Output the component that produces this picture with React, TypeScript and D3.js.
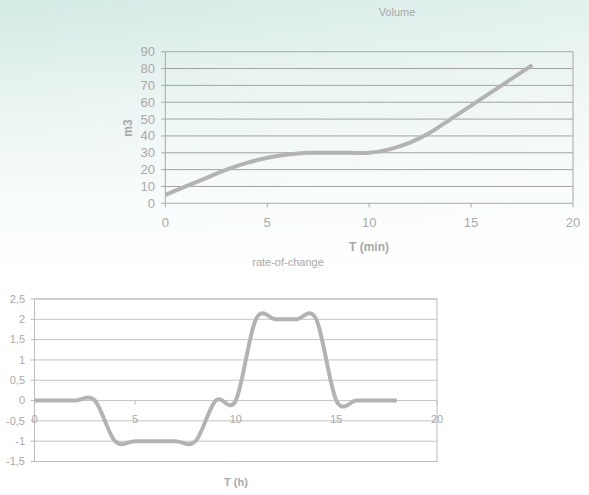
import React, { useEffect } from 'react';
import * as d3 from 'd3';

const W = 589;
const H = 495;

// volume chart (top)
const volT = [0, 1, 2, 3, 4, 5, 6, 7, 8, 9, 10, 11, 12, 13, 14, 15, 16, 17, 18];
const volV = [5, 10, 15, 20, 24, 27, 29, 30, 30, 30, 30, 32, 36, 42, 50, 58, 66, 74, 82];
const volYTicks = [0, 10, 20, 30, 40, 50, 60, 70, 80, 90];
const volXTicks = [0, 5, 10, 15, 20];

// rate-of-change chart (bottom)
const rateT = [0, 1, 2, 3, 4, 5, 6, 7, 8, 9, 10, 11, 12, 13, 14, 15, 16, 17, 18];
const rateV = [0, 0, 0, 0, -1, -1, -1, -1, -1, 0, 0, 2, 2, 2, 2, 0, 0, 0, 0];
const rateYTicks = [-1.5, -1, -0.5, 0, 0.5, 1, 1.5, 2, 2.5];
const rateXTicks = [0, 5, 10, 15, 20];

const FONT = '"Liberation Sans", Arial, sans-serif';
const TXT = '#a9a9a9';
const LINE = '#b3b3b3';

const fmtComma = (v: number) => String(v).replace('.', ',');

const App = () => {
    useEffect(() => {
        document.body.style.margin = '0';
    }, []);

    // top scales
    const x1 = d3.scaleLinear([0, 20], [165.3, 573]);
    const y1 = d3.scaleLinear([0, 90], [203.3, 51.7]);
    const line1 = d3
        .line<number>()
        .x((_, i) => x1(volT[i]))
        .y(d => y1(d))
        .curve(d3.curveCardinal.tension(0));

    // bottom scales
    const x2 = d3.scaleLinear([0, 20], [34.5, 437]);
    const y2 = d3.scaleLinear([-1.5, 2.5], [461.5, 299]);
    const line2 = d3
        .line<number>()
        .x((_, i) => x2(rateT[i]))
        .y(d => y2(d))
        .curve(d3.curveCardinal.tension(0));

    return (
        <svg width={W} height={H} style={{ display: 'block', fontFamily: FONT }}>
            <defs>
                <linearGradient id='bg' x1='0' y1='0' x2='0' y2='1'>
                    <stop offset='0' stopColor='#d3eae5' />
                    <stop offset='0.2' stopColor='#e9f4f1' />
                    <stop offset='0.4' stopColor='#f8fcfc' />
                    <stop offset='0.55' stopColor='#ffffff' />
                </linearGradient>
                <linearGradient id='bgh' x1='0' y1='0' x2='1' y2='0'>
                    <stop offset='0' stopColor='#ffffff' stopOpacity={0} />
                    <stop offset='1' stopColor='#ffffff' stopOpacity={0.35} />
                </linearGradient>
            </defs>
            <rect width={W} height={H} fill='url(#bg)' />
            <rect width={W} height={260} fill='url(#bgh)' />

            {/* ---- Volume ---- */}
            <text x={397} y={16} textAnchor='middle' fontSize={11} fill={TXT}>
                Volume
            </text>
            {volYTicks.map(t => (
                <g key={'vy' + t}>
                    <line
                        x1={x1(0)}
                        x2={x1(20)}
                        y1={y1(t)}
                        y2={y1(t)}
                        stroke={t === 0 || t === 90 ? '#a8a8a8' : '#a3a3a3'}
                        strokeWidth={1}
                    />
                    <line x1={x1(0) - 4} x2={x1(0)} y1={y1(t)} y2={y1(t)} stroke='#a8a8a8' />
                    <text
                        x={155}
                        y={y1(t)}
                        dy='0.35em'
                        textAnchor='end'
                        fontSize={13}
                        fill={TXT}
                    >
                        {t}
                    </text>
                </g>
            ))}
            <line x1={x1(0)} x2={x1(0)} y1={y1(90)} y2={y1(0)} stroke='#a8a8a8' />
            <line x1={x1(20)} x2={x1(20)} y1={y1(90)} y2={y1(0)} stroke='#a8a8a8' />
            {volXTicks.map(t => (
                <g key={'vx' + t}>
                    <line x1={x1(t)} x2={x1(t)} y1={y1(0)} y2={y1(0) + 4} stroke='#a8a8a8' />
                    <text x={x1(t)} y={222.7} dy='0.35em' textAnchor='middle' fontSize={13} fill={TXT}>
                        {t}
                    </text>
                </g>
            ))}
            <text
                transform={`translate(128,128) rotate(-90)`}
                textAnchor='middle'
                dy='0.35em'
                fontSize={12}
                fontWeight='bold'
                fill={TXT}
            >
                m3
            </text>
            <text x={369} y={247} dy='0.35em' textAnchor='middle' fontSize={12} fontWeight='bold' fill={TXT}>
                T (min)
            </text>
            <path d={line1(volV) ?? ''} fill='none' stroke={LINE} strokeWidth={4} />

            {/* ---- rate-of-change ---- */}
            <text x={288} y={262} dy='0.35em' textAnchor='middle' fontSize={11} fill={TXT}>
                rate-of-change
            </text>
            {rateYTicks.map(t => (
                <g key={'ry' + t}>
                    <line
                        x1={x2(0)}
                        x2={x2(20)}
                        y1={y2(t)}
                        y2={y2(t)}
                        stroke='#c4c4c4'
                        strokeWidth={1}
                    />
                    <line x1={x2(0) - 4} x2={x2(0)} y1={y2(t)} y2={y2(t)} stroke='#bdbdbd' />
                    <text
                        x={25}
                        y={y2(t)}
                        dy='0.35em'
                        textAnchor='end'
                        fontSize={11}
                        fill={TXT}
                    >
                        {fmtComma(t)}
                    </text>
                </g>
            ))}
            <rect
                x={x2(0)}
                y={y2(2.5)}
                width={x2(20) - x2(0)}
                height={y2(-1.5) - y2(2.5)}
                fill='none'
                stroke='#bdbdbd'
            />
            {rateXTicks.map(t => (
                <g key={'rx' + t}>
                    <line x1={x2(t)} x2={x2(t)} y1={y2(0)} y2={y2(0) + 4} stroke='#bdbdbd' />
                    <text x={x2(t)} y={418.7} dy='0.35em' textAnchor='middle' fontSize={11} fill={TXT}>
                        {t}
                    </text>
                </g>
            ))}
            <text x={236} y={482} dy='0.35em' textAnchor='middle' fontSize={11} fontWeight='bold' fill={TXT}>
                T (h)
            </text>
            <path d={line2(rateV) ?? ''} fill='none' stroke={LINE} strokeWidth={4} />
        </svg>
    );
};

export default App;
